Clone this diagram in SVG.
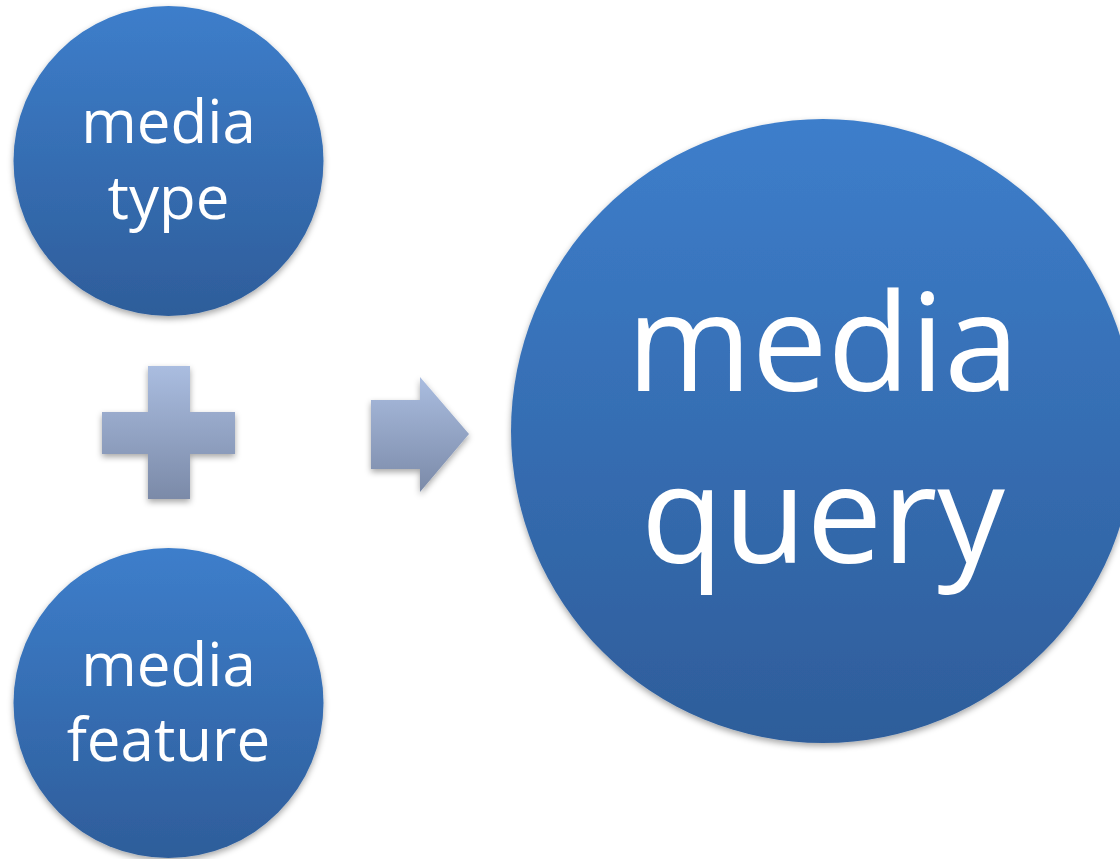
<svg xmlns="http://www.w3.org/2000/svg" width="1120" height="859" viewBox="0 0 1120 859">
<defs>
<linearGradient id="gBlue" x1="0" y1="0" x2="0" y2="1">
<stop offset="0" stop-color="#3d7ecb"/>
<stop offset="1" stop-color="#2e5d9a"/>
</linearGradient>
<linearGradient id="gGrey" x1="0" y1="0" x2="0" y2="1">
<stop offset="0" stop-color="#aabde0"/>
<stop offset="1" stop-color="#7b8aa8"/>
</linearGradient>
<filter id="sh" x="-10%" y="-10%" width="120%" height="125%">
<feDropShadow dx="0" dy="3" stdDeviation="3" flood-color="#000" flood-opacity="0.35"/>
</filter>
</defs>
<style>
.c{fill:url(#gBlue);filter:url(#sh)}
.s{fill:url(#gGrey);filter:url(#sh)}
.t{font-family:"Open Sans","Noto Sans",sans-serif;fill:#fff;text-anchor:middle}
.sm{font-size:60px}
.lg{font-size:135px}
</style>
<rect width="1120" height="859" fill="#fff"/>
<g id="media-type">
<circle class="c" cx="168.5" cy="161" r="155"/>
<text class="t sm" x="168.5" y="143">media</text>
<text class="t sm" x="168.5" y="219">type</text>
</g>
<g id="media-feature">
<circle class="c" cx="168.5" cy="703" r="155"/>
<text class="t sm" x="168.5" y="686">media</text>
<text class="t sm" x="168.5" y="761">feature</text>
</g>
<g id="media-query">
<circle class="c" cx="823" cy="431" r="312"/>
<text class="t lg" x="823" y="391">media</text>
<text class="t lg" x="823" y="563">query</text>
</g>
<g id="connectors">
<path id="plus" class="s" d="M148,366 H190 V412 H235 V454 H190 V499 H148 V454 H102 V412 H148 Z"/>
<path id="arrow" class="s" d="M371,400 H420 V377 L469,434 L420,492 V469 H371 Z"/>
</g>
</svg>
